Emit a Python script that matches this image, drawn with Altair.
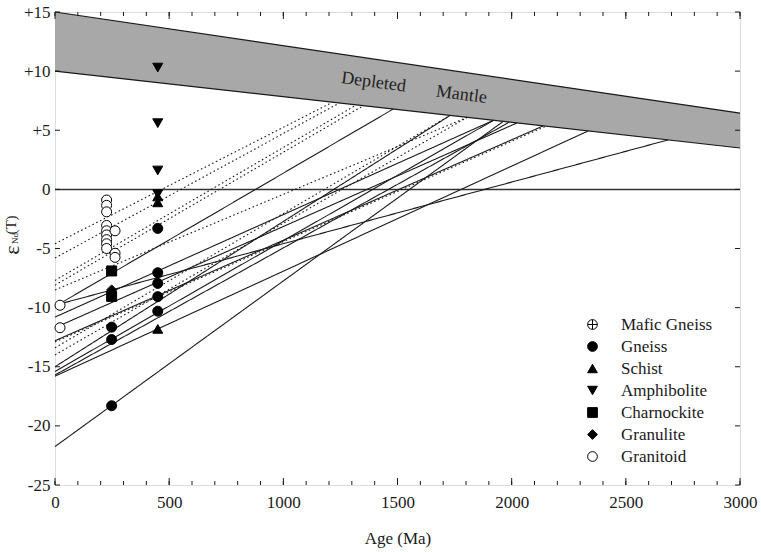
import numpy as np
import pandas as pd
import altair as alt

W, H = 685, 473
FONT = "Liberation Serif"
INK = "#1a1a1a"

# Depleted-mantle evolution band (age in Ma, epsilon Nd)
dm_age = [0, 3000]
dm_upper = [15.0, 6.45]
dm_lower = [10.0, 3.5]

# Nd evolution lines: present-day eNd(0) and depleted-mantle model age TDM (Ma)
solid_e0 = [-9.9, -21.75, -15.0, -15.4, -15.7, -15.8, -12.8, -10.8, -9.8, -11.7]
solid_tdm = [1481, 1963, 1730, 1920, 1990, 2335, 2138, 1920, 2685, 2023]
dotted_e0 = [-4.6, -5.8, -7.7, -8.1, -8.5, -12.9, -13.4, -14.0]
dotted_tdm = [1215, 1245, 1320, 1350, 1805, 2150, 1730, 1805]

# Samples: crystallisation age (Ma) and eNd(T)
amph_age = [450, 450, 450, 450]
amph_e = [10.3, 5.6, 1.6, -0.4]
schist_age = [450, 450, 450]
schist_e = [-0.6, -1.1, -11.8]
gneiss_age = [450, 450, 450, 450, 450, 248, 248, 248]
gneiss_e = [-3.3, -7.05, -7.95, -9.07, -10.3, -11.65, -12.7, -18.3]
charn_age = [248, 248]
charn_e = [-6.9, -9.05]
granulite_age = [248]
granulite_e = [-8.5]
granitoid_age = [22, 22, 226, 226, 226, 226, 226, 226, 226, 226, 226, 263, 263, 263]
granitoid_e = [-9.8, -11.7, -0.9, -1.35, -1.9, -3.05, -3.5, -3.85, -4.25, -4.6, -5.0, -3.5, -5.4, -5.75]

rocks = ["Mafic Gneiss", "Gneiss", "Schist", "Amphibolite", "Charnockite", "Granulite", "Granitoid"]
cross_circle = "M-1,0A1,1,0,1,1,1,0A1,1,0,1,1,-1,0ZM-1,0L1,0M0,-1L0,1"
shapes = [cross_circle, "circle", "triangle-up", "triangle-down", "square", "diamond", "circle"]
fills = ["white", "black", "black", "black", "black", "black", "white"]

# Axis ticks
x_minor = list(range(0, 3001, 100))
x_major = list(range(0, 3001, 500))
y_major = list(range(-25, 16, 5))


def dm_at(t):
    return float(np.interp(t, dm_age, dm_lower))


rows = []
for i, (e0, tdm) in enumerate(zip(solid_e0, solid_tdm)):
    rows += [dict(id=f"s{i}", style="solid", age=0, e=e0),
             dict(id=f"s{i}", style="solid", age=tdm, e=dm_at(tdm))]
for i, (e0, tdm) in enumerate(zip(dotted_e0, dotted_tdm)):
    rows += [dict(id=f"d{i}", style="dotted", age=0, e=e0),
             dict(id=f"d{i}", style="dotted", age=tdm, e=dm_at(tdm))]
lines_df = pd.DataFrame(rows)

pts = []
for name, ages, vals in [("Gneiss", gneiss_age, gneiss_e), ("Schist", schist_age, schist_e),
                         ("Amphibolite", amph_age, amph_e), ("Charnockite", charn_age, charn_e),
                         ("Granulite", granulite_age, granulite_e), ("Granitoid", granitoid_age, granitoid_e)]:
    pts += [dict(rock=name, age=a, e=v) for a, v in zip(ages, vals)]
pts_df = pd.DataFrame(pts)

band_df = pd.DataFrame({"age": dm_age, "up": dm_upper, "lo": dm_lower})

xs = alt.Scale(domain=[0, 3000], nice=False, zero=False)
ys = alt.Scale(domain=[-25, 15], nice=False, zero=False)

x_axis = alt.Axis(values=x_major, format="d", title="Age (Ma)", grid=False, ticks=False, domain=False,
                  labelFlush=False, labelFont=FONT, labelFontSize=17, labelColor=INK, labelPadding=9,
                  titleFont=FONT, titleFontSize=17, titleFontWeight="normal", titleColor=INK, titlePadding=20)
y_axis = alt.Axis(values=y_major, title=None, grid=False, ticks=False, domain=False, labelFlush=False,
                  labelFont=FONT, labelFontSize=17, labelColor=INK, labelPadding=5,
                  labelExpr="datum.value > 0 ? '+' + datum.value : '' + datum.value")


def X(field):
    return alt.X(field, scale=xs, axis=x_axis)


def Y(field):
    return alt.Y(field, scale=ys, axis=y_axis)


band = alt.Chart(band_df).mark_area(color="#a8a8a8", opacity=1).encode(
    x=X("age:Q"), y=Y("up:Q"), y2="lo:Q")
band_top = alt.Chart(band_df).mark_line(color=INK, strokeWidth=1.2).encode(x=X("age:Q"), y=Y("up:Q"))
band_bot = alt.Chart(band_df).mark_line(color=INK, strokeWidth=1.2).encode(x=X("age:Q"), y=Y("lo:Q"))

zero = alt.Chart(pd.DataFrame({"e": [0]})).mark_rule(color="#333", strokeWidth=1.5).encode(y=Y("e:Q"))

evo = alt.Chart(lines_df).mark_line(color=INK, strokeWidth=1.1).encode(
    x=X("age:Q"), y=Y("e:Q"),
    detail="id:N",
    strokeDash=alt.StrokeDash("style:N", scale=alt.Scale(domain=["solid", "dotted"],
                                                          range=[[1, 0], [1.6, 2.6]]), legend=None),
)

leg = alt.Legend(title=None, orient="none", legendX=529, legendY=304, padding=0,
                 labelFont=FONT, labelFontSize=17, labelColor=INK, labelOffset=20,
                 symbolSize=95, symbolStrokeColor="black", symbolStrokeWidth=1, rowPadding=4)

points = alt.Chart(pts_df).mark_point(filled=True, size=100, stroke="black", strokeWidth=1, opacity=1).encode(
    x=X("age:Q"), y=Y("e:Q"),
    shape=alt.Shape("rock:N", scale=alt.Scale(domain=rocks, range=shapes), legend=leg),
    fill=alt.Fill("rock:N", scale=alt.Scale(domain=rocks, range=fills), legend=leg),
    stroke=alt.Stroke("rock:N", scale=alt.Scale(domain=rocks, range=["black"] * 7), legend=leg),
)

dm_text = alt.Chart(pd.DataFrame({"t": ["Depleted", "Mantle"], "age": [1395, 1780], "e": [9.05, 8.0]})).mark_text(
    font=FONT, fontSize=18, angle=7.5, color="#222", align="center", baseline="middle").encode(
    x=X("age:Q"), y=Y("e:Q"), text="t:N")


def tick_layer(vals, horizontal, p1, p2):
    df = pd.DataFrame({"v": vals})
    if horizontal:
        enc = dict(x=X("v:Q"), y=alt.value(p1), y2=alt.value(p2))
    else:
        enc = dict(y=Y("v:Q"), x=alt.value(p1), x2=alt.value(p2))
    return alt.Chart(df).mark_rule(color=INK, strokeWidth=1).encode(**enc)


ticks = [
    tick_layer(x_minor, True, H, H - 4), tick_layer(x_major, True, H, H - 7),
    tick_layer(x_minor, True, 0, 4), tick_layer(x_major, True, 0, 7),
    tick_layer(y_major, False, 0, 5), tick_layer(y_major, False, W, W - 5),
]


# y-axis title: epsilon with Nd subscript, rotated to read upwards
def title_piece(s, px, py, fs):
    return alt.Chart(pd.DataFrame({"s": [s]})).mark_text(
        font=FONT, fontSize=fs, angle=270, color=INK, align="center", baseline="middle").encode(
        x=alt.value(px), y=alt.value(py), text="s:N")


ytitle = [title_piece("\u03b5", -43, 238, 22), title_piece("Nd", -40, 226.5, 9), title_piece("(T)", -44, 213, 15)]

chart = alt.layer(band, band_top, band_bot, zero, evo, *ticks, dm_text, points, *ytitle).properties(
    width=W, height=H,
    autosize=alt.AutoSizeParams(type="none"),
    padding={"left": 55, "top": 12, "right": 21, "bottom": 67},
).configure_view(stroke=INK, strokeWidth=1.3).configure(background="white")

chart.save("out.html", embed_options={"renderer": "svg", "actions": False})
